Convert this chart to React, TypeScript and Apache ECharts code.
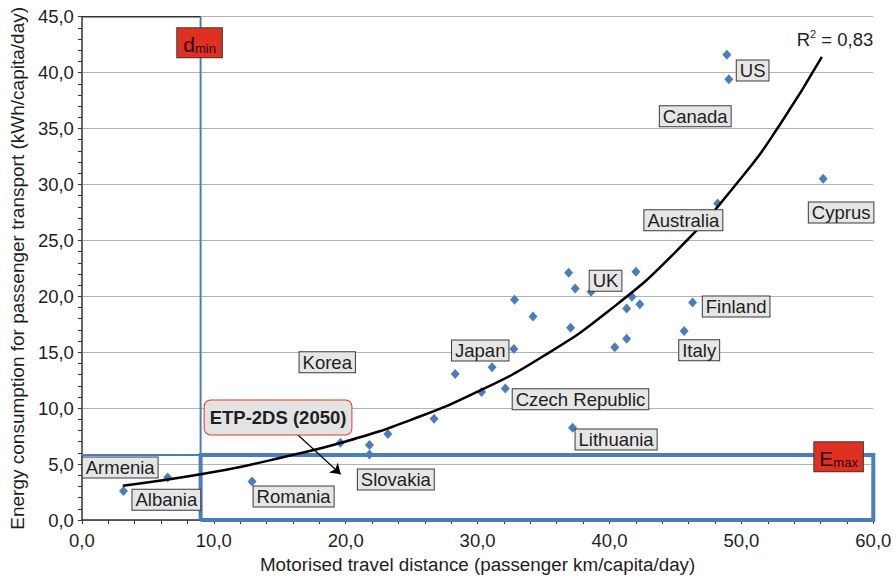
import React, { useEffect, useRef } from "react";
import * as echarts from "echarts";

// Observed countries: [motorised travel distance, energy consumption]
const countryPoints: [number, number][] = [
  [3.15, 2.6], [6.5, 3.8], [12.9, 3.45], [19.6, 6.9], [21.8, 6.7], [21.8, 5.85],
  [23.2, 7.7], [26.7, 9.05], [28.3, 13.05], [30.3, 11.45], [31.1, 13.65], [32.1, 11.75],
  [32.75, 15.3], [32.8, 19.7], [34.2, 18.2], [36.9, 22.1], [37.05, 17.2], [37.4, 20.7],
  [38.6, 20.4], [37.2, 8.25], [40.4, 15.45], [41.3, 16.2], [41.3, 18.9], [41.7, 19.95],
  [42.0, 22.2], [42.3, 19.3], [45.66, 16.9], [46.3, 19.45], [48.2, 28.3], [48.9, 41.6],
  [49.05, 39.4], [56.2, 30.5],
];

// Exponential trend line
const trendX = [3.1, 6, 9, 12, 15, 20, 25, 30, 35, 40, 45, 50, 53, 56.1];
const trendY = [3.06, 3.53, 4.09, 4.74, 5.55, 7.02, 8.98, 11.47, 14.66, 18.75, 23.96, 30.6, 35.5, 41.4];

// Thresholds
const dMin = 9.0;
const eMax = 5.82;
const xMin = 0, xMax = 60, xStep = 10;
const yMin = 0, yMax = 45, yStep = 5;

// Country label anchors (data units)
const countryLabels = [
  { name: "US", x: 50.85, y: 40.2 },
  { name: "Canada", x: 46.5, y: 36.1 },
  { name: "Australia", x: 45.6, y: 26.8 },
  { name: "Cyprus", x: 57.56, y: 27.5 },
  { name: "UK", x: 39.7, y: 21.4 },
  { name: "Finland", x: 49.6, y: 19.1 },
  { name: "Italy", x: 46.8, y: 15.17 },
  { name: "Japan", x: 30.2, y: 15.15 },
  { name: "Korea", x: 18.6, y: 14.1 },
  { name: "Czech Republic", x: 37.8, y: 10.8 },
  { name: "Lithuania", x: 40.5, y: 7.2 },
  { name: "Slovakia", x: 23.8, y: 3.62 },
  { name: "Armenia", x: 2.9, y: 4.7 },
  { name: "Albania", x: 6.4, y: 1.8 },
  { name: "Romania", x: 16.05, y: 2.1 },
];

const etpLabel = { name: "ETP-2DS (2050)", x: 14.87, y: 9.16 };
const etpArrow: [number, number][] = [[16.34, 7.65], [19.62, 4.09]];
const dMinLabel = { x: 8.92, y: 42.66 };
const eMaxLabel = { x: 57.37, y: 5.65 };
const r2Label = { text: "0,83", x: 60, y: 43.1 };

const FONT = "'Liberation Sans', Arial, Helvetica, sans-serif";
const TXT = "#1e1e1e";
const BLUE = "#4a7ebb";
const fmt = (v: number) => v.toFixed(1).replace(".", ",");

export default function App() {
  const ref = useRef<HTMLDivElement>(null);
  useEffect(() => {
    if (!ref.current) return;
    const chart = echarts.init(ref.current, undefined, { renderer: "svg" });

    const boxLabel = {
      show: true,
      position: "inside",
      formatter: "{b}",
      color: TXT,
      fontFamily: FONT,
      fontSize: 18.5,
      lineHeight: 19,
      backgroundColor: "#e6e6e6",
      borderColor: "#3a3a3a",
      borderWidth: 1,
      padding: [1, 3, 0, 3],
    };

    const redRich = {
      a: { fontFamily: FONT, fontSize: 21, color: "#2a0a06", lineHeight: 24, verticalAlign: "bottom" },
      b: { fontFamily: FONT, fontSize: 13, color: "#2a0a06", lineHeight: 24, verticalAlign: "bottom", padding: [8, 0, 0, 0] },
    };

    const annotationData: any[] = countryLabels.map((c) => ({
      name: c.name,
      value: [c.x, c.y],
      label: boxLabel,
    }));
    annotationData.push({
      name: etpLabel.name,
      value: [etpLabel.x, etpLabel.y],
      label: {
        ...boxLabel,
        fontWeight: "bold",
        borderColor: "#e0392b",
        borderRadius: 6,
        backgroundColor: "#e3e3e3",
        padding: [8, 5, 7, 5],
      },
    });
    annotationData.push({
      name: "dmin",
      value: [dMinLabel.x, dMinLabel.y],
      label: {
        show: true,
        position: "inside",
        formatter: "{a|d}{b|min}",
        backgroundColor: "#e03020",
        borderColor: "#3a3a3a",
        borderWidth: 1,
        padding: [3, 6, 2, 6],
        rich: redRich,
      },
    });
    annotationData.push({
      name: "Emax",
      value: [eMaxLabel.x, eMaxLabel.y],
      label: {
        show: true,
        position: "inside",
        formatter: "{a|E}{b|max}",
        backgroundColor: "#e03020",
        borderColor: "#3a3a3a",
        borderWidth: 1,
        padding: [3, 5, 2, 5],
        rich: redRich,
      },
    });
    annotationData.push({
      name: "R2",
      value: [r2Label.x, r2Label.y],
      label: {
        show: true,
        position: "left",
        distance: 0,
        formatter: "{a|R}{s|2}{a| = " + r2Label.text + "}",
        rich: {
          a: { fontFamily: FONT, fontSize: 18.5, color: TXT, lineHeight: 22, verticalAlign: "bottom" },
          s: { fontFamily: FONT, fontSize: 11, color: TXT, lineHeight: 22, verticalAlign: "bottom", padding: [0, 0, 9, 0] },
        },
      },
    });

    chart.setOption({
      animation: false,
      backgroundColor: "#ffffff",
      textStyle: { fontFamily: FONT },
      grid: { left: 78.3, right: 22.7, top: 16.7, bottom: 56.3, containLabel: false },
      xAxis: {
        type: "value",
        min: xMin,
        max: xMax,
        interval: xStep,
        name: "Motorised travel distance (passenger km/capita/day)",
        nameLocation: "middle",
        nameGap: 35,
        nameTextStyle: { fontFamily: FONT, fontSize: 18.8, color: TXT },
        axisLine: { show: true, lineStyle: { color: "#333", width: 1.5 } },
        axisTick: { show: true, length: 4, lineStyle: { color: "#333" } },
        minorTick: { show: true, splitNumber: 5, length: 4, lineStyle: { color: "#333" } },
        axisLabel: { formatter: fmt, fontFamily: FONT, fontSize: 18.5, color: TXT, margin: 11 },
        splitLine: { show: false },
      },
      yAxis: {
        type: "value",
        min: yMin,
        max: yMax,
        interval: yStep,
        name: "Energy consumption for passenger transport (kWh/capita/day)",
        nameLocation: "middle",
        nameGap: 52,
        nameTextStyle: { fontFamily: FONT, fontSize: 19, color: TXT },
        axisLine: { show: true, lineStyle: { color: "#333", width: 1.5 } },
        axisTick: { show: true, length: 4, lineStyle: { color: "#333" } },
        minorTick: { show: true, splitNumber: 5, length: 4, lineStyle: { color: "#333" } },
        axisLabel: { formatter: fmt, fontFamily: FONT, fontSize: 18.5, color: TXT, margin: 8 },
        splitLine: { show: true, lineStyle: { color: "#b4b4b4", width: 1.2 } },
      },
      series: [
        {
          type: "line",
          data: [[xMin, yMax], [dMin, yMax]],
          symbol: "none",
          lineStyle: { color: "#333", width: 1.5 },
          z: 1,
        },
        {
          type: "line",
          data: [[dMin, yMax], [dMin, yMin]],
          symbol: "none",
          clip: false,
          lineStyle: { color: BLUE, width: 2 },
          z: 3,
        },
        {
          type: "line",
          data: [[xMin, eMax], [dMin, eMax]],
          symbol: "none",
          lineStyle: { color: BLUE, width: 2 },
          z: 3,
        },
        {
          type: "line",
          data: [[dMin, yMin], [dMin, eMax], [xMax, eMax], [xMax, yMin], [dMin, yMin]],
          symbol: "none",
          clip: false,
          lineStyle: { color: BLUE, width: 4, join: "miter" },
          z: 3,
        },
        {
          type: "scatter",
          data: countryPoints,
          symbol: "diamond",
          symbolSize: [9, 10],
          itemStyle: { color: BLUE, opacity: 1 },
          z: 4,
        },
        {
          type: "line",
          data: trendX.map((x, i) => [x, trendY[i]]),
          symbol: "none",
          smooth: true,
          lineStyle: { color: "#000", width: 2.5 },
          z: 5,
        },
        {
          type: "lines",
          coordinateSystem: "cartesian2d",
          data: [{ coords: etpArrow }],
          symbol: ["none", "arrow"],
          symbolSize: 10,
          lineStyle: { color: "#000", width: 1.2, opacity: 1 },
          z: 6,
        },
        {
          type: "scatter",
          data: annotationData,
          symbolSize: 0,
          itemStyle: { color: "transparent", opacity: 1 },
          z: 7,
        },
      ],
    });
    return () => chart.dispose();
  }, []);
  return (
    <div
      ref={ref}
      style={{ position: "fixed", left: 0, top: 0, width: 896, height: 579 }}
    />
  );
}
